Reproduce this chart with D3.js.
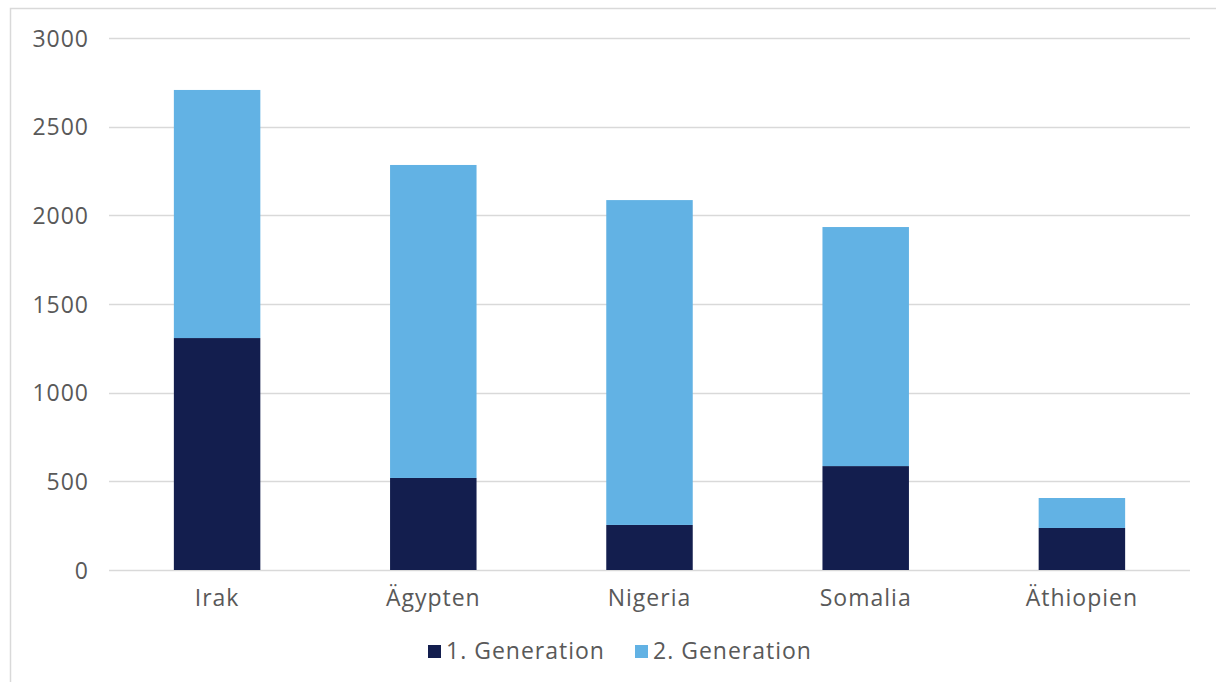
<!DOCTYPE html>
<html>
<head>
<meta charset="utf-8">
<script src="https://cdn.jsdelivr.net/npm/d3@7"></script>
<style>
  html, body { margin: 0; padding: 0; background: #fff; }
  svg { display: block; }
  text { font-family: "Open Sans", "DejaVu Sans", sans-serif; fill: #595959; }
</style>
</head>
<body>
<svg id="chart" width="1216" height="682"></svg>
<script>
// Countries of origin
const categories = ["Irak", "Ägypten", "Nigeria", "Somalia", "Äthiopien"];
// Series
const seriesNames = ["1. Generation", "2. Generation"];
const gen1 = [1308, 519, 254, 586, 237];
const gen2 = [1399, 1765, 1832, 1348, 169];
// Y axis ticks
const yTicks = [0, 500, 1000, 1500, 2000, 2500, 3000];
const colors = ["#131e4e", "#62b2e4"];

const FONT = '"Open Sans", "DejaVu Sans", sans-serif';
const FS = "23px";
const LS = "1px";

const svg = d3.select("#chart");
const W = 1216, H = 682;

// outer frame (right and bottom edges lie outside the view)
svg.append("rect")
  .attr("x", 10.5).attr("y", 8.5)
  .attr("width", W + 10).attr("height", H + 10)
  .attr("fill", "none").attr("stroke", "#d9d9d9").attr("stroke-width", 1.5);

const m = { left: 109, right: 1190, top: 38, bottom: 570 };

const x = d3.scaleBand().domain(categories).range([m.left, m.right]).paddingInner(0.6).paddingOuter(0.3);
const y = d3.scaleLinear().domain([0, 3000]).range([m.bottom, m.top]);

// gridlines
svg.append("g").selectAll("line").data(yTicks).join("line")
  .attr("x1", m.left).attr("x2", m.right)
  .attr("y1", d => Math.round(y(d)) + 0.5).attr("y2", d => Math.round(y(d)) + 0.5)
  .attr("stroke", "#d9d9d9").attr("stroke-width", 1.5);

// y axis labels
const yAxis = d3.axisLeft(y).tickValues(yTicks).tickSize(0).tickPadding(0).tickFormat(d3.format("d"));
const gy = svg.append("g").attr("transform", `translate(${m.left - 20},0)`).call(yAxis);
gy.select(".domain").remove();
gy.selectAll("text").style("font-size", FS).style("letter-spacing", LS).attr("fill", "#595959")
  .style("font-family", FONT).attr("dy", "0.35em");

// stacked bars
const rows = categories.map((c, i) => ({ cat: c, g1: gen1[i], g2: gen2[i] }));
const stack = d3.stack().keys(["g1", "g2"])(rows);
svg.append("g").selectAll("g").data(stack).join("g")
  .attr("fill", (d, i) => colors[i])
  .selectAll("rect").data(d => d).join("rect")
  .attr("x", d => x(d.data.cat))
  .attr("width", x.bandwidth())
  .attr("y", d => y(d[1]))
  .attr("height", d => y(d[0]) - y(d[1]));

// x axis labels
const xAxis = d3.axisBottom(x).tickSize(0).tickPadding(0);
const gx = svg.append("g").attr("transform", `translate(0,${m.bottom + 20})`).call(xAxis);
gx.select(".domain").remove();
gx.selectAll("text").style("font-size", FS).style("letter-spacing", LS).attr("fill", "#595959")
  .style("font-family", FONT).attr("dy", "0.71em");

// legend
const legend = svg.append("g").attr("transform", "translate(428,651)");
const legendX = [0, 207];
seriesNames.forEach((name, i) => {
  const g = legend.append("g").attr("transform", `translate(${legendX[i]},0)`);
  g.append("rect").attr("x", 0).attr("y", -6).attr("width", 13).attr("height", 13).attr("fill", colors[i]);
  g.append("text").attr("x", 18).attr("y", 0).attr("dy", "0.35em")
    .style("font-size", FS).style("letter-spacing", LS).text(name);
});
</script>
</body>
</html>
